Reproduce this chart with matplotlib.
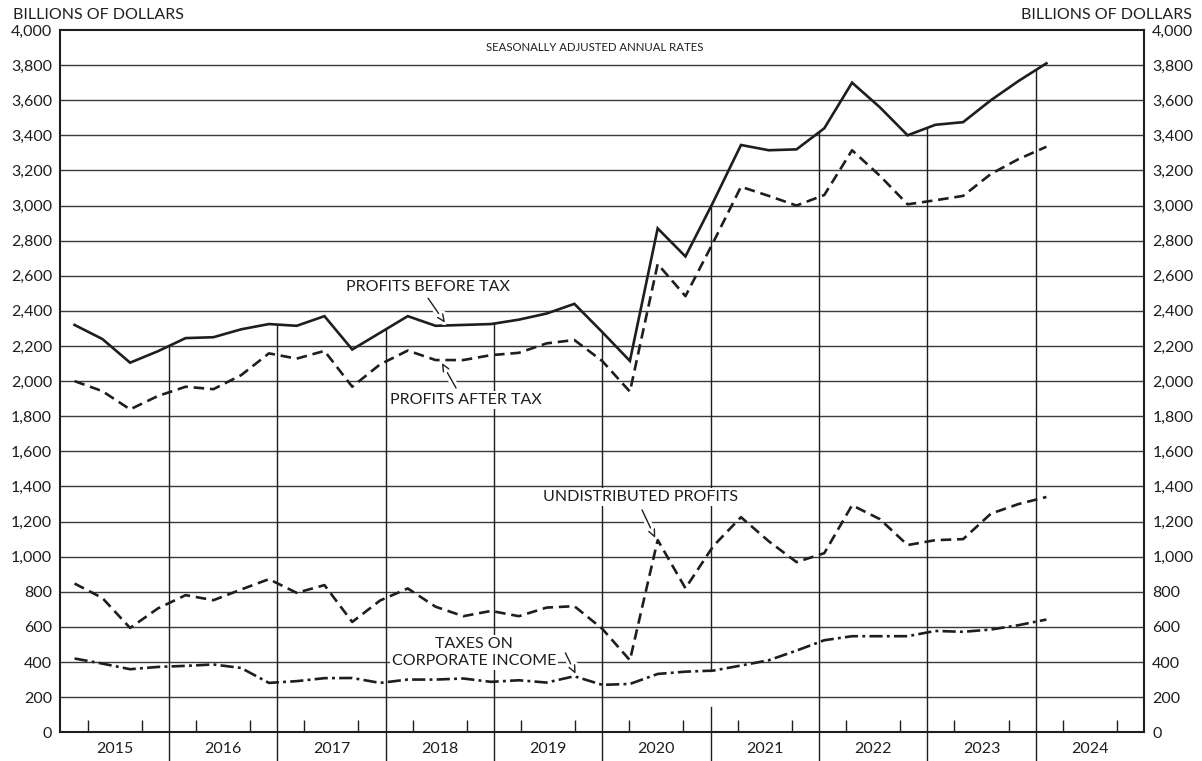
import numpy as np
import matplotlib.pyplot as plt
import matplotlib.patheffects as pe

plt.rcParams['font.family'] = ['Lato', 'DejaVu Sans']

# Quarterly data, billions of dollars, seasonally adjusted annual rates
years = list(range(2015, 2025))
quarters = [f"{y} Q{q}" for y in range(2015, 2024) for q in range(1, 5)]

before_tax = [2320, 2240, 2105, 2170, 2245, 2250, 2295, 2325,
              2315, 2370, 2180, 2275, 2370, 2315, 2320, 2325,
              2350, 2385, 2440, 2280, 2115, 2870, 2710, 3020,
              3345, 3315, 3320, 3440, 3700, 3560, 3400, 3460,
              3475, 3600, 3710, 3810]
after_tax = [2000, 1943, 1839, 1915, 1968, 1954, 2034, 2158,
             2128, 2172, 1968, 2095, 2174, 2120, 2120, 2148,
             2161, 2215, 2234, 2115, 1940, 2667, 2484, 2790,
             3107, 3055, 3000, 3060, 3315, 3170, 3007, 3030,
             3055, 3180, 3265, 3335]
undistributed = [847, 765, 594, 705, 781, 752, 813, 872,
                 794, 838, 628, 750, 819, 715, 661, 691,
                 661, 710, 718, 590, 410, 1095, 820, 1060,
                 1225, 1088, 969, 1020, 1293, 1214, 1066, 1094,
                 1100, 1245, 1300, 1340]
taxes = [420, 391, 359, 372, 378, 386, 366, 281,
         291, 308, 309, 281, 300, 300, 306, 287,
         296, 283, 319, 270, 275, 332, 345, 351,
         380, 410, 465, 524, 547, 547, 547, 577,
         572, 585, 610, 642]

INK = '#1e1e1e'
FS = 11.5

# points are spaced a little wider than the quarter ticks in the source chart
x = np.linspace(2015.13, 2024.10, len(quarters))

fig = plt.figure(figsize=(12.02, 7.61), dpi=100)
ax = fig.add_axes([0.0503, 0.0378, 0.9014, 0.9228])
ax.set_xlim(2015, 2025)
ax.set_ylim(0, 4000)

# horizontal rules
for v in range(200, 4000, 200):
    ax.axhline(v, color='#3a3a3a', lw=1.0, zorder=1)

# year separators run from below the axis up to the before-tax line
for yr in years[1:]:
    top = np.interp(yr, x, before_tax)
    if yr == 2021:
        ax.plot([yr, yr], [-175, 145], color=INK, lw=1.0, clip_on=False, zorder=1)
        ax.plot([yr, yr], [np.interp(yr, x, taxes), top], color=INK, lw=1.0, zorder=1)
    else:
        ax.plot([yr, yr], [-175, top], color=INK, lw=1.0, clip_on=False, zorder=1)

ax.plot(x, before_tax, color=INK, lw=1.9, zorder=3, solid_joinstyle='miter')
ax.plot(x, after_tax, color=INK, lw=1.9, dashes=(4, 2.2), zorder=3)
ax.plot(x, undistributed, color=INK, lw=1.9, dashes=(4, 2.2), zorder=3)
ax.plot(x, taxes, color=INK, lw=1.9, dashes=(5, 1.6, 1.1, 1.6), zorder=3)

# axes and ticks
for side in ['top', 'left', 'right', 'bottom']:
    ax.spines[side].set_linewidth(1.5)
    ax.spines[side].set_color(INK)
    ax.spines[side].set_zorder(4)

yt = list(range(0, 4001, 200))
ax.set_yticks(yt, [f"{v:,}" for v in yt])
ax.tick_params(axis='y', length=0, pad=6, labelsize=FS, labelcolor=INK,
               labelright=True)
ax.set_xticks([y + 0.5 for y in years], [str(y) for y in years])
ax.set_xticks([y + q / 4 for y in years for q in (1, 2, 3)], minor=True)
ax.tick_params(axis='x', which='major', length=0, pad=7, labelsize=FS,
               labelcolor=INK)
ax.tick_params(axis='x', which='minor', direction='in', length=8.6,
               width=1.0, color=INK)

fig.text(0.0106, 0.980, 'BILLIONS OF DOLLARS', ha='left', va='center',
         fontsize=FS, color=INK)
fig.text(0.9914, 0.980, 'BILLIONS OF DOLLARS', ha='right', va='center',
         fontsize=FS, color=INK)
fig.text(0.495, 0.9382, 'SEASONALLY ADJUSTED ANNUAL RATES', ha='center',
         va='center', fontsize=8.2, color=INK)

# series labels
box = dict(facecolor='white', edgecolor='none', pad=1.5)
halo = [pe.withStroke(linewidth=5, foreground='white')]
arrow = dict(arrowstyle='->,head_length=0.5,head_width=0.22', color=INK,
             lw=1.0, shrinkA=0, shrinkB=0, path_effects=halo)


def label(text, xy, start, end):
    ax.text(xy[0], xy[1], text, ha='center', va='center', fontsize=FS,
            color=INK, bbox=box, zorder=5, linespacing=1.25)
    ax.annotate('', xy=end, xytext=start, arrowprops=arrow, zorder=5)


label('PROFITS BEFORE TAX', (2018.388, 2535), (2018.393, 2472), (2018.55, 2332))
label('PROFITS AFTER TAX', (2018.739, 1893), (2018.651, 1961), (2018.52, 2104))
label('UNDISTRIBUTED PROFITS', (2020.349, 1340), (2020.368, 1266), (2020.49, 1106))
label('TAXES ON\nCORPORATE INCOME', (2018.817, 454), (2019.66, 452), (2019.755, 332))

fig.savefig('out.png', dpi=100)
